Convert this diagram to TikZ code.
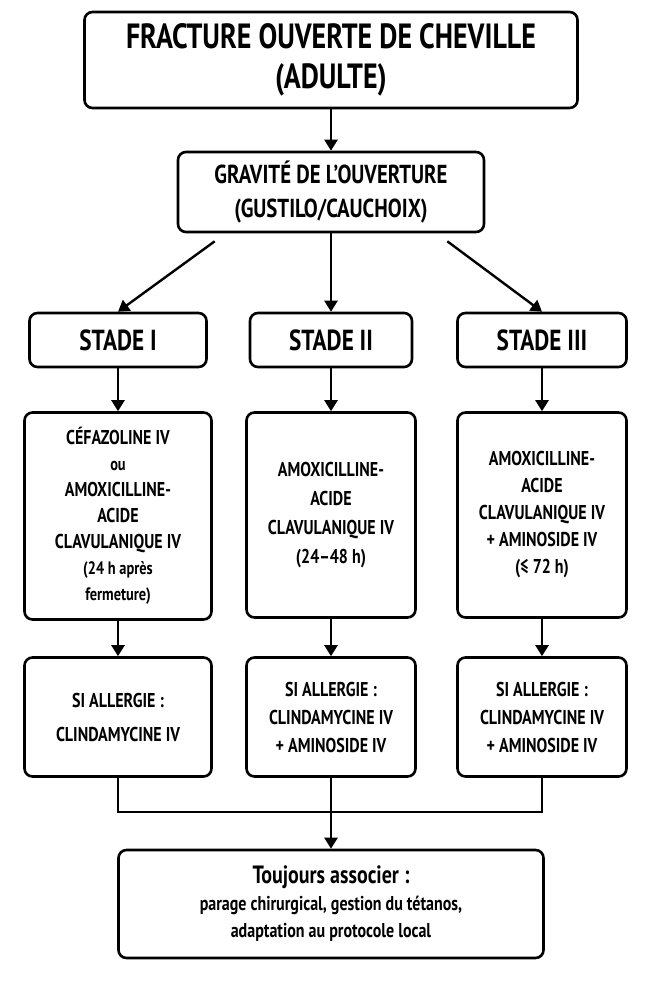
\documentclass[tikz,border=0pt]{standalone}
\usepackage{fontspec}
\setmainfont{PT Sans}[FakeStretch=0.8]
\usetikzlibrary{positioning,arrows.meta}
\begin{document}
\begin{tikzpicture}[x=1pt,y=-1pt,
box/.style={draw=black,line width=2.6pt,rounded corners=8pt,fill=white,align=center,font=\bfseries,inner sep=0pt},
link/.style={line width=2.4pt,-{Triangle[length=11pt,width=13pt]}}]
\useasboundingbox (0,0) rectangle (659,988);
\node[box,minimum width=493,minimum height=96,font=\bfseries\fontsize{35}{40}\selectfont] (title) at (331,60) {FRACTURE OUVERTE DE CHEVILLE\\(ADULTE)};
\node[box,minimum width=306,minimum height=80,font=\bfseries\fontsize{26}{34}\selectfont] (grav) at (331,192) {GRAVITÉ DE L’OUVERTURE\\(GUSTILO/CAUCHOIX)};
\node[box,minimum width=177,minimum height=54,font=\bfseries\fontsize{29}{32}\selectfont] (s1) at (118,340) {STADE I};
\node[box,minimum width=162,minimum height=54,font=\bfseries\fontsize{29}{32}\selectfont] (s2) at (331,340) {STADE II};
\node[box,minimum width=169,minimum height=54,font=\bfseries\fontsize{29}{32}\selectfont] (s3) at (542,340) {STADE III};
\node[box,minimum width=187,minimum height=207,font=\bfseries\fontsize{20}{26}\selectfont] (d1) at (118,516) {CÉFAZOLINE IV\\{\fontsize{18}{26}\selectfont ou}\\AMOXICILLINE-\\ACIDE\\CLAVULANIQUE IV\\{\fontsize{18}{22}\selectfont (24 h après}\\{\fontsize{18}{22}\selectfont fermeture)}};
\node[box,minimum width=169,minimum height=205,font=\bfseries\fontsize{20}{29}\selectfont] (d2) at (331,515) {AMOXICILLINE-\\ACIDE\\CLAVULANIQUE IV\\(24–48 h)};
\node[box,minimum width=169,minimum height=205,font=\bfseries\fontsize{20}{27}\selectfont] (d3) at (542,515) {AMOXICILLINE-\\ACIDE\\CLAVULANIQUE IV\\+ AMINOSIDE IV\\(≤ 72 h)};
\node[box,minimum width=187,minimum height=119,font=\bfseries\fontsize{20}{34}\selectfont] (a1) at (118,717) {SI ALLERGIE :\\CLINDAMYCINE IV};
\node[box,minimum width=169,minimum height=119,font=\bfseries\fontsize{20}{28}\selectfont] (a2) at (331,717) {SI ALLERGIE :\\CLINDAMYCINE IV\\+ AMINOSIDE IV};
\node[box,minimum width=169,minimum height=119,font=\bfseries\fontsize{20}{28}\selectfont] (a3) at (542,717) {SI ALLERGIE :\\CLINDAMYCINE IV\\+ AMINOSIDE IV};
\node[box,minimum width=425,minimum height=108,font=\bfseries\fontsize{20}{27}\selectfont] (tj) at (331,904) {{\fontsize{25}{30}\selectfont Toujours associer :}\\parage chirurgical, gestion du tétanos,\\adaptation au protocole local};
\coordinate (j) at (331,812);
\draw[link] (title) -- (grav);
\draw[link] (grav.south west) ++(38,8) -- (s1.north);
\draw[link] (grav) -- (s2);
\draw[link] (grav.south east) ++(-38,8) -- (s3.north);
\foreach \k in {1,2,3} {
  \draw[link] (s\k) -- (d\k);
  \draw[link] (d\k) -- (a\k);
}
\draw[line width=2.4pt] (a1.south) |- (j) -| (a3.south);
\draw[line width=2.4pt] (a2.south) -- (j);
\draw[link] (j) -- (tj);
\end{tikzpicture}
\end{document}
